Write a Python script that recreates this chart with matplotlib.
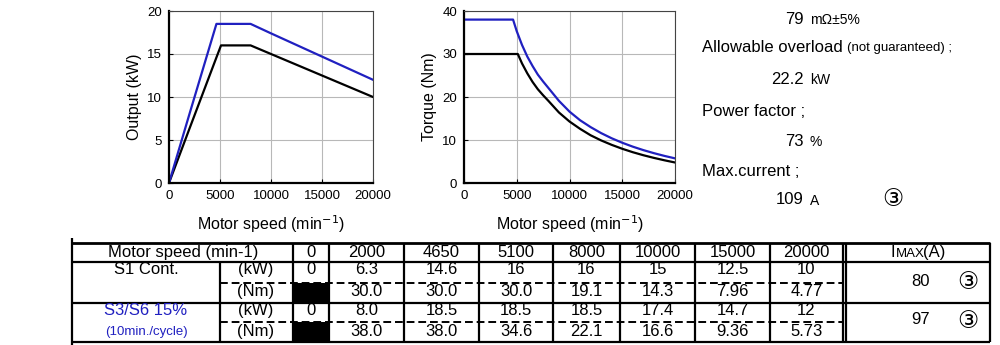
import matplotlib

matplotlib.use("Agg")
import matplotlib.pyplot as plt

plt.rcParams["font.family"] = ["Liberation Sans", "DejaVu Sans"]

speed = [0, 2000, 4650, 5100, 8000, 10000, 15000, 20000]
s1_kw = [0, 6.3, 14.6, 16, 16, 15, 12.5, 10]
s3_kw = [0, 8.0, 18.5, 18.5, 18.5, 17.4, 14.7, 12]

torque_speed_s1 = [0, 2000, 4650, 5100, 5500, 6000, 6500, 7000, 7500, 8000, 9000, 10000,
                   11000, 12000, 13000, 14000, 15000, 16000, 17000, 18000, 19000, 20000]
s1_nm = [30, 30, 30, 30, 27.8, 25.5, 23.5, 21.8, 20.4, 19.1, 16.4, 14.3,
         12.6, 11.1, 9.9, 8.87, 7.96, 7.16, 6.46, 5.84, 5.28, 4.77]
torque_speed_s3 = [0, 2000, 4650, 5000, 5500, 6000, 6500, 7000, 7500, 8000, 9000, 10000,
                   11000, 12000, 13000, 14000, 15000, 16000, 17000, 18000, 19000, 20000]
s3_nm = [38, 38, 38, 35.3, 32.1, 29.4, 27.2, 25.2, 23.6, 22.1, 19.1, 16.6,
         14.6, 13.0, 11.6, 10.4, 9.36, 8.45, 7.65, 6.94, 6.30, 5.73]

# table contents
table_speeds = ["0", "2000", "4650", "5100", "8000", "10000", "15000", "20000"]
s1_kw_labels = ["0", "6.3", "14.6", "16", "16", "15", "12.5", "10"]
s1_nm_labels = [None, "30.0", "30.0", "30.0", "19.1", "14.3", "7.96", "4.77"]
s3_kw_labels = ["0", "8.0", "18.5", "18.5", "18.5", "17.4", "14.7", "12"]
s3_nm_labels = [None, "38.0", "38.0", "34.6", "22.1", "16.6", "9.36", "5.73"]
imax_values = ["80", "97"]

BLUE = "#2020c0"
W, H = 1000, 345

fig = plt.figure(figsize=(10, 3.45), dpi=100)


def px_axes(left, top, right, bottom):
    return fig.add_axes([left / W, 1 - bottom / H, (right - left) / W, (bottom - top) / H])


def style_chart(ax, ylim, yticks, ylabel):
    ax.set_xlim(0, 20000)
    ax.set_ylim(*ylim)
    ax.set_xticks([0, 5000, 10000, 15000, 20000])
    ax.set_yticks(yticks)
    ax.grid(True, color="#b8b8b8", lw=0.8)
    ax.set_axisbelow(True)
    ax.tick_params(labelsize=9.5, length=3, direction="in", pad=5)
    for side in ("left", "bottom"):
        ax.spines[side].set_linewidth(1.6)
    for side in ("top", "right"):
        ax.spines[side].set_linewidth(0.8)
        ax.spines[side].set_color("#444444")
    ax.set_xlabel("Motor speed (min$^{-1}$)", fontsize=11.5, labelpad=8)
    ax.set_ylabel(ylabel, fontsize=11.5, labelpad=4)


ax1 = px_axes(169, 11, 373, 183)
ax1.plot(speed, s1_kw, color="black", lw=1.6)
ax1.plot(speed, s3_kw, color=BLUE, lw=1.6)
style_chart(ax1, (0, 20), [0, 5, 10, 15, 20], "Output (kW)")

ax2 = px_axes(464, 11, 675, 183)
ax2.plot(torque_speed_s1, s1_nm, color="black", lw=1.6)
ax2.plot(torque_speed_s3, s3_nm, color=BLUE, lw=1.6)
style_chart(ax2, (0, 40), [0, 10, 20, 30, 40], "Torque (Nm)")

# overlay for text block and table, pixel coordinates
ov = fig.add_axes([0, 0, 1, 1])
ov.set_xlim(0, W)
ov.set_ylim(H, 0)
ov.axis("off")

val_kw = dict(fontsize=12, ha="right", va="center")
unit_kw = dict(fontsize=10, ha="left", va="center")
ov.text(804, 20, "79", **val_kw)
ov.text(810, 20, "mΩ±5%", **unit_kw)
ov.text(702, 47, "Allowable overload", fontsize=12, va="center")
ov.text(847, 48, "(not guaranteed) ;", fontsize=9.5, va="center")
ov.text(804, 80, "22.2", **val_kw)
ov.text(810, 80, "kW", **unit_kw)
ov.text(702, 111, "Power factor ;", fontsize=12, va="center")
ov.text(804, 142, "73", **val_kw)
ov.text(810, 142, "%", **unit_kw)
ov.text(702, 172, "Max.current ;", fontsize=12, va="center")
ov.text(804, 200, "109", **val_kw)
ov.text(810, 201, "A", **unit_kw)
ov.text(893, 199, "③", fontsize=17, ha="center", va="center",
        family=["DejaVu Sans"])

# table geometry
col_x = [293, 329, 404, 479, 553, 620, 695, 770, 843]
rows_y = [243, 262, 283, 303, 322, 342]
tx = 12
lw = 1.6

def hline(y, x0, x1, **kw):
    ov.plot([x0, x1], [y, y], color="black", lw=kw.pop("lw", lw), solid_capstyle="butt", **kw)

def vline(x, y0, y1, **kw):
    ov.plot([x, x], [y0, y1], color="black", lw=kw.pop("lw", lw), solid_capstyle="butt", **kw)

hline(rows_y[0], 72, 990, lw=2)
hline(rows_y[1], 72, 990)
hline(rows_y[3], 72, 990)
hline(rows_y[5], 72, 990)
for y in (rows_y[2], rows_y[4]):
    ov.plot([220, 843], [y, y], color="black", lw=1.4, ls=(0, (4, 2)))
vline(72, 238, 345)
vline(220, rows_y[1], rows_y[5])
for x in col_x:
    vline(x, rows_y[0], rows_y[5])
vline(846, rows_y[0], rows_y[5])
vline(990, rows_y[0], rows_y[5])

# black cells at zero speed, Nm rows
for y0, y1 in ((rows_y[2], rows_y[3]), (rows_y[4], rows_y[5])):
    ov.fill_between([293, 329], y0, y1, color="black", lw=0)

centers = [(col_x[i] + col_x[i + 1]) / 2 for i in range(len(col_x) - 1)]
base = dict(fontsize=tx, ha="center", va="baseline")
ov.text(183, 257, "Motor speed (min-1)", **base)
ov.text(891, 257, "I", fontsize=tx, ha="left", va="baseline")
ov.text(896, 257, "MAX", fontsize=9.5, ha="left", va="baseline")
ov.text(923, 257, "(A)", fontsize=tx, ha="left", va="baseline")
ov.text(146, 274, "S1 Cont.", **base)
ov.text(146, 315, "S3/S6 15%", color=BLUE, **base)
ov.text(146, 335, "(10min./cycle)", fontsize=9.5, ha="center", va="baseline", color=BLUE)
for y, lab in ((274, "(kW)"), (296, "(Nm)"), (315, "(kW)"), (336, "(Nm)")):
    ov.text(256, y, lab, **base)

for labels, y in ((table_speeds, 257), (s1_kw_labels, 274), (s1_nm_labels, 296),
                  (s3_kw_labels, 315), (s3_nm_labels, 336)):
    for cx, lab in zip(centers, labels):
        if lab is not None:
            ov.text(cx, y, lab, **base)

for y, val in zip((281, 320), imax_values):
    ov.text(930, y, val, fontsize=tx, ha="right", va="center")
    ov.text(968, y + 1, "③", fontsize=17, ha="center", va="center",
            family=["DejaVu Sans"])

fig.savefig("out.png", dpi=100)
